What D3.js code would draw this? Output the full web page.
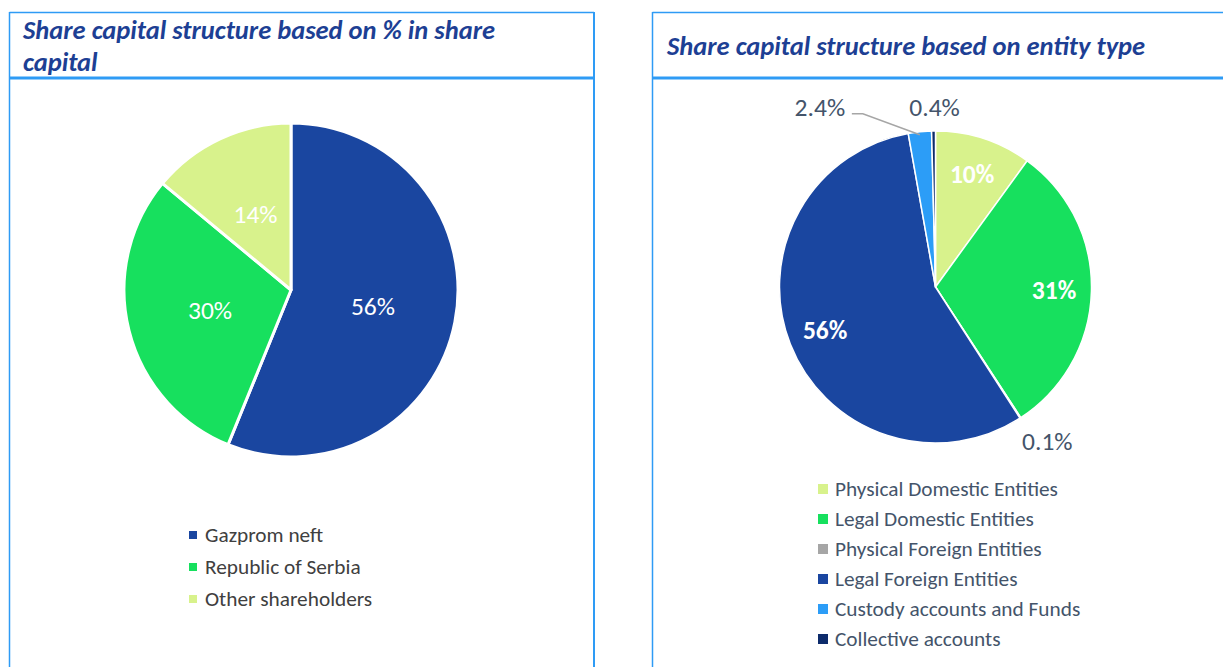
<!DOCTYPE html>
<html>
<head>
<meta charset="utf-8">
<script src="https://cdn.jsdelivr.net/npm/d3@7"></script>
<style>
  html, body { margin: 0; padding: 0; background: #fff; }
  svg { display: block; font-family: Carlito, Lato, "Open Sans", sans-serif; }
</style>
</head>
<body>
<svg id="chart" width="1223" height="667"></svg>
<script>
// left chart: % in share capital
const ownerNames = ['Gazprom neft', 'Republic of Serbia', 'Other shareholders'];
const ownerValues = [56.15, 29.87, 13.98];
const ownerLabels = ['56%', '30%', '14%'];
const ownerColors = ['#1a46a0', '#17e05e', '#d8f28c'];

// right chart: entity type
const entityNames = ['Physical Domestic Entities', 'Legal Domestic Entities', 'Physical Foreign Entities',
                     'Legal Foreign Entities', 'Custody accounts and Funds', 'Collective accounts'];
const entityValues = [10.0, 30.8, 0.1, 56.3, 2.4, 0.4];
const entityLabels = ['10%', '31%', '0.1%', '56%', '2.4%', '0.4%'];
const entityColors = ['#d8f28c', '#17e05e', '#a6a6a6', '#1a46a0', '#2c9df7', '#0d2b6b'];
const entityOutside = [false, false, true, false, true, true];

const svg = d3.select('#chart');
const borderCol = '#2e9bf5';

// panel frames
function panel(x0, x1, rightBorder) {
    const g = svg.append('g');
    g.append('line').attr('x1', x0).attr('x2', x1).attr('y1', 12.5).attr('y2', 12.5)
        .attr('stroke', borderCol).attr('stroke-width', 1.5);
    g.append('line').attr('x1', x0).attr('x2', x0).attr('y1', 12).attr('y2', 667)
        .attr('stroke', borderCol).attr('stroke-width', 1.5);
    if (rightBorder) {
        g.append('line').attr('x1', x1).attr('x2', x1).attr('y1', 12).attr('y2', 667)
            .attr('stroke', borderCol).attr('stroke-width', 2);
    }
    g.append('line').attr('x1', x0).attr('x2', x1).attr('y1', 78).attr('y2', 78)
        .attr('stroke', borderCol).attr('stroke-width', 3);
    return g;
}
panel(9.5, 594, true);
panel(652.5, 1230, false);

function title(x, lines, y0) {
    const t = svg.append('text')
        .attr('x', x).attr('y', y0)
        .attr('fill', '#1d3f94')
        .attr('font-size', 26.5)
        .attr('font-weight', 'bold')
        .attr('font-style', 'italic');
    lines.forEach((l, i) => t.append('tspan').attr('x', x).attr('dy', i ? 32 : 0).text(l));
}
title(23, ['Share capital structure based on % in share', 'capital'], 39);
title(667, ['Share capital structure based on entity type'], 55);

// ---------- left pie ----------
const pie = d3.pie().sort(null).value(d => d);

const cx1 = 291, cy1 = 290, r1 = 167;
const arc1 = d3.arc().innerRadius(0).outerRadius(r1);
const lab1 = d3.arc().innerRadius(r1 * 0.5).outerRadius(r1 * 0.5);
const g1 = svg.append('g').attr('transform', `translate(${cx1},${cy1})`);
const p1 = pie(ownerValues);

g1.selectAll('path').data(p1).join('path')
    .attr('d', arc1)
    .attr('fill', (d, i) => ownerColors[i])
    .attr('stroke', '#fff').attr('stroke-width', 3).attr('stroke-linejoin', 'round');

g1.selectAll('text').data(p1).join('text')
    .attr('transform', d => `translate(${lab1.centroid(d)})`)
    .attr('text-anchor', 'middle').attr('dy', '0.35em')
    .attr('fill', '#fff').attr('font-size', 25.5)
    .text((d, i) => ownerLabels[i]);

const leg1 = svg.append('g').attr('transform', 'translate(189,535)');
ownerNames.forEach((n, i) => {
    const row = leg1.append('g').attr('transform', `translate(0,${i * 32})`);
    row.append('rect').attr('x', 0).attr('y', -4).attr('width', 8).attr('height', 8).attr('fill', ownerColors[i]);
    row.append('text').attr('x', 16).attr('dy', '0.35em').attr('fill', '#404040')
        .attr('font-size', 21.3).text(n);
});

// ---------- right pie ----------
const cx2 = 935.5, cy2 = 287, r2 = 156;
const arc2 = d3.arc().innerRadius(0).outerRadius(r2);
const lab2 = d3.arc().innerRadius(r2 * 0.76).outerRadius(r2 * 0.76);
const g2 = svg.append('g').attr('transform', `translate(${cx2},${cy2})`);
const p2 = pie(entityValues);

g2.selectAll('path').data(p2).join('path')
    .attr('d', arc2)
    .attr('fill', (d, i) => entityColors[i])
    .attr('stroke', '#fff').attr('stroke-width', 1.5).attr('stroke-linejoin', 'round');

g2.selectAll('text.in').data(p2.filter((d, i) => !entityOutside[i])).join('text')
    .attr('class', 'in')
    .attr('transform', d => `translate(${lab2.centroid(d)})`)
    .attr('text-anchor', 'middle').attr('dy', '0.35em')
    .attr('fill', '#fff').attr('font-size', 25.5).attr('font-weight', 'bold')
    .text(d => entityLabels[d.index]);

// outside labels: shift from the slice's rim point
const outShift = { 2: [27, 23], 4: [-100, -25], 5: [1, -24] };
const rim = a => [Math.sin(a) * r2, -Math.cos(a) * r2];
p2.forEach((d, i) => {
    if (!entityOutside[i]) return;
    const mid = (d.startAngle + d.endAngle) / 2;
    const [rx, ry] = rim(mid);
    const [sx, sy] = outShift[i];
    const lx = rx + sx, ly = ry + sy;
    g2.append('text')
        .attr('x', lx).attr('y', ly)
        .attr('text-anchor', 'middle').attr('dy', '0.35em')
        .attr('fill', '#44546a').attr('font-size', 25.5)
        .text(entityLabels[i]);
    if (i === 4) {
        // leader line from label to slice
        const x0 = lx + 32, y0 = ly + 7;
        g2.append('path')
            .attr('d', `M${x0},${y0}L${x0 + 11},${y0}L${rx},${ry + 3}`)
            .attr('fill', 'none').attr('stroke', '#a6a6a6').attr('stroke-width', 1.5);
    }
});

const leg2 = svg.append('g').attr('transform', 'translate(818,489)');
entityNames.forEach((n, i) => {
    const row = leg2.append('g').attr('transform', `translate(0,${i * 30})`);
    row.append('rect').attr('x', 0).attr('y', -5).attr('width', 10).attr('height', 10).attr('fill', entityColors[i]);
    row.append('text').attr('x', 17).attr('dy', '0.35em').attr('fill', '#44546a')
        .attr('font-size', 21.3).text(n);
});
</script>
</body>
</html>
